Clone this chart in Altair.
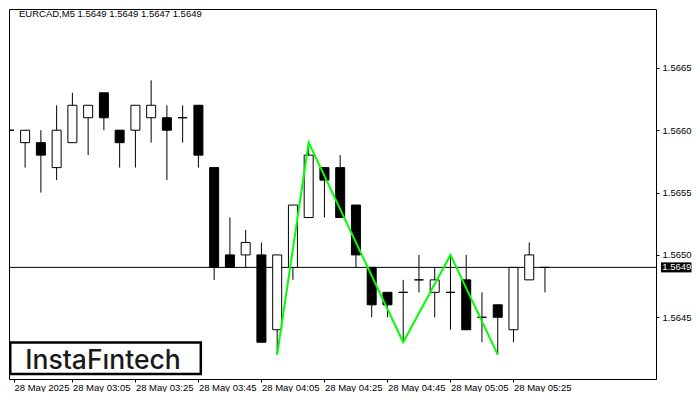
import altair as alt
import pandas as pd

# ---------------- data ----------------
opens  = [1.5660, 1.5659, 1.5659, 1.5657, 1.5659, 1.5661, 1.5663, 1.5660, 1.5660, 1.5661,
          1.5661, 1.5661, 1.5662, 1.5657, 1.5650, 1.5650, 1.5650, 1.5644, 1.5649, 1.5653,
          1.5657, 1.5657, 1.5654, 1.5649, 1.5647, 1.5647, 1.5648, 1.5647, 1.5647, 1.5648,
          1.5645, 1.5646, 1.5644, 1.5648, 1.5649]
highs  = [1.5661, 1.5660, 1.5660, 1.5662, 1.5663, 1.5662, 1.5663, 1.5660, 1.5662, 1.5664,
          1.5662, 1.5662, 1.5662, 1.5657, 1.5653, 1.5652, 1.5651, 1.5650, 1.5654, 1.5659,
          1.5657, 1.5658, 1.5654, 1.5649, 1.5647, 1.5648, 1.5650, 1.5649, 1.5650, 1.5650,
          1.5647, 1.5646, 1.5649, 1.5651, 1.5649]
lows   = [1.5655, 1.5657, 1.5655, 1.5656, 1.5659, 1.5658, 1.5660, 1.5657, 1.5657, 1.5659,
          1.5656, 1.5659, 1.5657, 1.5648, 1.5649, 1.5649, 1.5643, 1.5642, 1.5648, 1.5653,
          1.5653, 1.5653, 1.5649, 1.5645, 1.5645, 1.5643, 1.5647, 1.5645, 1.5644, 1.5644,
          1.5643, 1.5642, 1.5643, 1.5648, 1.5647]
closes = [1.5660, 1.5660, 1.5658, 1.5660, 1.5662, 1.5662, 1.5661, 1.5659, 1.5662, 1.5662,
          1.5660, 1.5661, 1.5658, 1.5649, 1.5649, 1.5651, 1.5643, 1.5650, 1.5654, 1.5658,
          1.5656, 1.5653, 1.5650, 1.5646, 1.5646, 1.5647, 1.5648, 1.5648, 1.5647, 1.5644,
          1.5645, 1.5645, 1.5649, 1.5650, 1.5649]

# pattern (green zig-zag): bar index and price
pattern_bars   = [17, 19, 25, 28, 31]
pattern_prices = [1.5642, 1.5659, 1.5643, 1.5650, 1.5642]

# time axis
tick_bars   = [0, 4, 8, 12, 16, 20, 24, 28, 32]
tick_labels = ["28 May 2025", "28 May 03:05", "28 May 03:25", "28 May 03:45",
               "28 May 04:05", "28 May 04:25", "28 May 04:45", "28 May 05:05",
               "28 May 05:25"]
price_ticks = [1.5645, 1.5650, 1.5655, 1.5660, 1.5665, 1.5670]
current_price = 1.5649
title_text = "EURCAD,M5  1.5649 1.5649 1.5647 1.5649"
logo_text = "InstaFıntech"

# ---------------- layout ----------------
W, H = 647, 370
XDOM = [0.294, 40.73]
YDOM = [1.564005, 1.566972]
FONT = "Liberation Sans"
FS = 9.5

df = pd.DataFrame({
    "i": list(range(len(opens))),
    "open": opens, "high": highs, "low": lows, "close": closes,
})
df["bot"] = df[["open", "close"]].min(axis=1)
df["top"] = df[["open", "close"]].max(axis=1)
df["bull"] = df["close"] >= df["open"]

pat = pd.DataFrame({"i": pattern_bars, "p": pattern_prices})

xs = alt.Scale(domain=XDOM, nice=False, zero=False)
ys = alt.Scale(domain=YDOM, nice=False, zero=False)

label_expr = "[" + ",".join("'" + t + "'" for t in tick_labels) + "][round(datum.value/4)]"
x_tick_values = [max(b, XDOM[0]) for b in tick_bars]

x_axis = alt.Axis(values=x_tick_values, labelExpr=label_expr, title=None, grid=False,
                  domain=False, tickSize=3, tickColor="black", labelAlign="left",
                  labelBaseline="alphabetic", labelPadding=8, labelFont=FONT,
                  labelFontSize=FS, labelColor="black", labelFlush=False,
                  labelOverlap=False)
y_axis = alt.Axis(orient="right", values=price_ticks, format=".4f", title=None,
                  grid=False, domain=False, tickSize=3, tickColor="black",
                  labelPadding=3, labelFont=FONT, labelFontSize=FS,
                  labelColor="black")


def X(field):
    return alt.X(field, scale=xs, axis=x_axis)


def Y(field):
    return alt.Y(field, scale=ys, axis=y_axis)


base = alt.Chart(df)

wicks = base.mark_rule(color="black", strokeWidth=1, clip=True).encode(
    x=X("i:Q"), y=Y("low:Q"), y2="high:Q",
)

bodies = base.mark_bar(size=9, stroke="black", strokeWidth=1, clip=True).encode(
    x=X("i:Q"), y=Y("bot:Q"), y2="top:Q",
    fill=alt.condition("datum.bull", alt.value("white"), alt.value("black")),
)

cur = pd.DataFrame({"p": [current_price], "t": ["1.5649"]})

price_line = alt.Chart(cur).mark_rule(color="black", strokeWidth=1).encode(y=Y("p:Q"))

zigzag = alt.Chart(pat).mark_line(color="#00ff00", strokeWidth=2, clip=True).encode(
    x=X("i:Q"), y=Y("p:Q"), order="i:Q",
)

price_box = alt.Chart(cur).mark_rect(color="black", yOffset=-5, y2Offset=5).encode(
    x=alt.value(W + 5), x2=alt.value(W + 35.5), y=Y("p:Q"), y2="p:Q",
)
price_text = alt.Chart(cur).mark_text(
    align="left", baseline="middle", color="white", font=FONT, fontSize=FS).encode(
    x=alt.value(W + 6.3), y=Y("p:Q"), text="t:N",
)

title = alt.Chart(pd.DataFrame({"t": [title_text]})).mark_text(
    align="left", baseline="middle", color="black", font=FONT, fontSize=FS).encode(
    x=alt.value(10), y=alt.value(4.8), text="t:N")

logo_box = alt.Chart(pd.DataFrame({"a": [0]})).mark_rect(
    fill="white", stroke="black", strokeWidth=2.5).encode(
    x=alt.value(1.25), x2=alt.value(191.8), y=alt.value(333.6), y2=alt.value(365))
logo = alt.Chart(pd.DataFrame({"t": [logo_text]})).mark_text(
    align="center", baseline="middle", color="#1a1a1a", font="Inter", fontSize=26.5,
    fontWeight=500).encode(
    x=alt.value(94), y=alt.value(351.5), text="t:N")

chart = alt.layer(
    price_line, wicks, bodies, zigzag, logo_box, logo, title, price_box, price_text
).properties(
    width=W, height=H,
    padding=0,
    background="white",
).configure_view(stroke="black", strokeWidth=1)

chart.save("out.html", embed_options={"renderer": "svg", "actions": False})
